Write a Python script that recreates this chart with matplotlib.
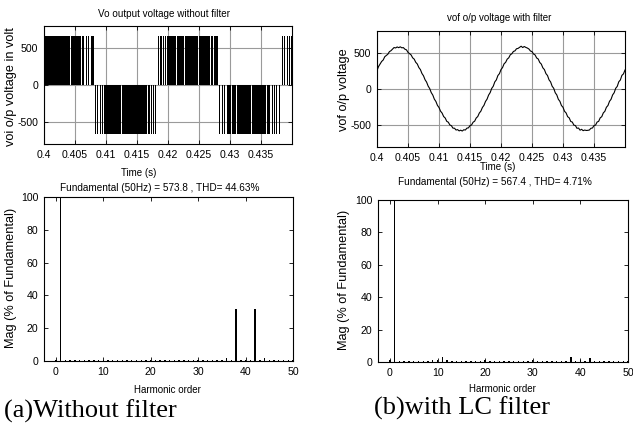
import numpy as np
import matplotlib
matplotlib.use('Agg')
import matplotlib.pyplot as plt

plt.rcParams['font.family'] = ['Liberation Sans', 'DejaVu Sans']
plt.rcParams['axes.unicode_minus'] = False

# --- dados ---
# pulsos PWM (sem filtro): inicio, fim em ms depois de 0.4 s, e sinal
pwm_on = [0.0, 1.02, 1.79, 2.60, 4.32, 4.75, 5.18, 5.72, 6.10, 6.70, 7.13, 7.51, 7.78,
          8.25, 8.58, 8.96, 9.33, 9.65, 10.67, 11.47, 12.52, 13.89, 14.42, 15.22, 16.02,
          16.83, 17.23, 17.60, 17.93,
          18.38, 18.76, 19.13, 19.50, 19.79, 20.07, 20.87, 21.42, 22.72, 24.37, 24.92,
          25.52, 25.99, 26.98, 27.36, 27.63, 27.90,
          28.26, 28.64, 29.06, 29.44, 29.72, 30.29, 31.10, 31.62, 32.42, 33.52, 34.57,
          35.39, 35.92, 36.70, 37.08, 37.45, 37.83,
          38.31, 38.68, 39.12, 39.48, 39.79]
pwm_off = [0.95, 1.72, 2.53, 4.25, 4.68, 5.11, 5.65, 6.03, 6.50, 6.90, 7.33, 7.71, 8.01,
           8.44, 8.78, 9.16, 9.54, 10.60, 11.40, 12.45, 13.82, 14.35, 15.15, 15.95, 16.55,
           17.02, 17.42, 17.80, 18.12,
           18.58, 18.96, 19.33, 19.70, 20.00, 20.80, 21.35, 22.65, 24.30, 24.85, 25.45,
           25.92, 26.70, 27.18, 27.56, 27.83, 28.10,
           28.46, 28.84, 29.26, 29.64, 30.22, 31.03, 31.55, 32.35, 33.45, 34.50, 35.32,
           35.85, 36.50, 36.90, 37.28, 37.65, 38.03,
           38.51, 38.88, 39.32, 39.68, 40.0]
pwm_sign = [1] * 13 + [-1] * 16 + [1] * 17 + [-1] * 17 + [1] * 5
vdc = 660

# tensao com filtro LC, amostras a cada 0.25 ms a partir de 0.4 s
vof = [255, 310, 345, 380, 400, 445, 462, 480, 515, 528, 550, 572, 566, 580, 570, 582,
       568, 571, 549, 540, 505, 488, 470, 430, 412, 368, 345, 296, 268, 214, 182, 128,
       95, 40, 6, -50, -84, -140, -172, -226, -255, -306, -332, -380, -400, -446, -458,
       -496, -506, -540, -541, -566, -560, -578, -568, -580, -562, -566, -540, -536, -505,
       -496, -458, -444, -400, -380, -332, -306, -255, -226, -172, -140, -84, -50, 8, 38,
       98, 126, 186, 212, 268,
       296, 348, 368, 412, 430, 472, 486, 518, 526, 555, 560, 575, 590, 572, 586, 574,
       565, 552, 524, 516, 482, 470, 428, 414, 366, 344, 292, 268, 212, 186, 126, 98, 38,
       10, -52, -82, -142, -170, -228, -252, -308, -330, -382, -398, -448, -456, -498,
       -504, -542, -538, -568, -556, -575, -566, -572, -570, -566, -542, -538, -504, -498,
       -456, -446, -398, -382, -330, -308, -252, -228, -170, -142, -82, -52, 10, 36, 100,
       124, 188, 208, 262]
vof_step_ms = 0.25

time_ticks = [0.4, 0.405, 0.41, 0.415, 0.42, 0.425, 0.43, 0.435]
time_labels = ['0.4', '0.405', '0.41', '0.415', '0.42', '0.425', '0.43', '0.435']

harm = list(range(51))
mag_sem = [0.5, 100, 0.6, 0.6, 0.6, 0.6, 0.6, 0.6, 0.6, 0.6, 0.6, 0.6, 0.6, 0.6, 0.6, 0.6,
           0.6, 0.6, 0.6, 0.6, 0.6, 0.6, 0.6, 0.6, 0.6, 0.6, 0.6, 0.6, 0.6, 0.6, 0.6, 0.6,
           0.6, 0.6, 0.6, 0.6, 2.0, 0.6, 31.5, 0.6, 0.6, 0.6, 31.5, 0.6, 2.0, 0.6, 0.6, 0.6,
           0.6, 0.6, 0.6]
mag_com = [1.2, 100, 0.5, 0.5, 0.5, 0.5, 0.5, 0.5, 0.5, 1.0, 1.5, 3.0, 1.0, 0.5, 0.5, 0.5,
           0.5, 0.5, 0.5, 0.5, 1.2, 0.5, 0.5, 0.5, 0.5, 0.5, 0.5, 0.5, 0.5, 0.5, 1.2, 0.5,
           0.5, 0.5, 0.5, 0.5, 0.5, 0.5, 3.2, 0.5, 1.0, 0.5, 2.2, 0.5, 0.5, 0.5, 0.5, 0.5,
           0.5, 0.5, 0.5]

W, H = 633, 426
fig = plt.figure(figsize=(W / 100, H / 100), dpi=100)


def box(x0, y0, x1, y1):
    return fig.add_axes([x0 / W, 1 - y1 / H, (x1 - x0) / W, (y1 - y0) / H])


def txt(x, y, s, **kw):
    kw.setdefault('ha', 'center')
    kw.setdefault('va', 'center')
    fig.text(x / W, 1 - y / H, s, **kw)


def estilo(ax):
    ax.tick_params(direction='in', top=True, right=True, length=3, width=0.6,
                   labelsize=7.6, pad=4)
    for s in ax.spines.values():
        s.set_linewidth(0.8)


# 1. tensao sem filtro
ax1 = box(44, 26, 292, 144)
t, v = [], []
for a, b, s in zip(pwm_on, pwm_off, pwm_sign):
    t += [0.4 + a / 1000, 0.4 + a / 1000, 0.4 + b / 1000, 0.4 + b / 1000]
    v += [0, s * vdc, s * vdc, 0]
ax1.fill_between(t, v, 0, color='k', lw=0)
ax1.set_xlim(0.4, 0.44)
ax1.set_ylim(-800, 800)
ax1.set_yticks([-500, 0, 500])
ax1.set_xticks(time_ticks)
ax1.set_xticklabels(time_labels)
ax1.grid(True, color='#9a9a9a', lw=0.8)
ax1.set_axisbelow(True)
estilo(ax1)

# 2. tensao com filtro
ax2 = box(377, 31, 625, 147)
tf = [0.4 + i * vof_step_ms / 1000 for i in range(len(vof))]
ax2.plot(tf, vof, color='k', lw=0.8)
ax2.set_xlim(0.4, 0.44)
ax2.set_ylim(-800, 800)
ax2.set_yticks([-500, 0, 500])
ax2.set_xticks(time_ticks)
ax2.set_xticklabels(time_labels)
ax2.grid(True, color='#9a9a9a', lw=0.8)
ax2.set_axisbelow(True)
estilo(ax2)

# 3. espectro sem filtro
ax3 = box(44, 197, 293, 361)
ax3.bar(harm, mag_sem, width=0.3, color='k')
ax3.set_xlim(-2.5, 50)
ax3.set_ylim(0, 100)
ax3.set_xticks([0, 10, 20, 30, 40, 50])
ax3.set_yticks([0, 20, 40, 60, 80, 100])
estilo(ax3)

# 4. espectro com filtro
ax4 = box(378, 200, 628, 362)
ax4.bar(harm, mag_com, width=0.3, color='k')
ax4.set_xlim(-2.5, 50)
ax4.set_ylim(0, 100)
ax4.set_xticks([0, 10, 20, 30, 40, 50])
ax4.set_yticks([0, 20, 40, 60, 80, 100])
estilo(ax4)

# textos
txt(164, 14, 'Vo output voltage without filter', fontsize=7.1)
txt(139, 173, 'Time (s)', fontsize=7)
txt(160, 188, 'Fundamental (50Hz) = 573.8 , THD= 44.63%', fontsize=7.2)
txt(11, 87, 'voi o/p voltage in volt', fontsize=9.2, rotation=90)

txt(499, 18, 'vof o/p voltage with filter', fontsize=7)
txt(498, 167, 'Time (s)', fontsize=7)
txt(495, 182, 'Fundamental (50Hz) = 567.4 , THD= 4.71%', fontsize=7.2)
txt(344, 90, 'vof o/p voltage', fontsize=9.2, rotation=90)

txt(167, 390, 'Harmonic order', fontsize=7)
txt(11, 278, 'Mag (% of Fundamental)', fontsize=9.2, rotation=90)
txt(502, 389, 'Harmonic order', fontsize=7)
txt(344, 280, 'Mag (% of Fundamental)', fontsize=9.2, rotation=90)

txt(4, 411, '(a)Without filter', fontsize=19, ha='left', family='Liberation Serif')
txt(374, 408, '(b)with LC filter', fontsize=19, ha='left', family='Liberation Serif')

plt.savefig('out.png', dpi=100)
